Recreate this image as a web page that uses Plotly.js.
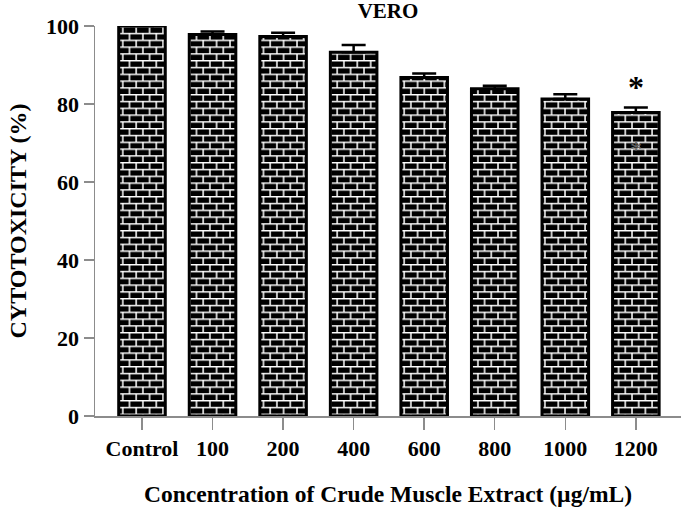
<!DOCTYPE html>
<html>
<head>
<meta charset="utf-8">
<script src="https://cdn.plot.ly/plotly-3.0.1.min.js"></script>
<style>html,body{margin:0;padding:0;background:#fff;}#chart{width:685px;height:512px;}</style>
</head>
<body>
<div id="chart"></div>
<script>
var categories = ["Control", "100", "200", "400", "600", "800", "1000", "1200"];
var cytotoxicity = [100, 97.8, 97.3, 93.3, 86.8, 83.9, 81.3, 77.8];
var errorsUp = [0, 0.8, 1.0, 1.8, 1.0, 0.8, 1.2, 1.3];
var errorsDown = [0, 0, 0, 0, 0, 0, 0, 0];
var yTicks = [0, 20, 40, 60, 80, 100];
var significantIndex = 7;

var FONT = "Liberation Serif, Times New Roman, serif";
var AXIS_GREY = "#8c8c8c";

var trace = {
  type: "bar",
  x: categories,
  y: cytotoxicity,
  width: 0.66,
  marker: {
    color: "black",
    line: {color: "black", width: 3},
    pattern: {shape: "+", bgcolor: "black", fgcolor: "white", size: 13, solidity: 0.1}
  },
  error_y: {
    type: "data", symmetric: false,
    array: errorsUp, arrayminus: errorsDown,
    color: "black", thickness: 2.5, width: 12
  },
  hoverinfo: "skip"
};

var layout = {
  width: 685, height: 512,
  margin: {l: 95, r: 4, t: 26, b: 96},
  paper_bgcolor: "white", plot_bgcolor: "white",
  showlegend: false,
  font: {family: FONT, color: "black"},
  title: {
    text: "<b>VERO</b>",
    font: {family: FONT, size: 21, color: "black"},
    x: 388 / 685, xanchor: "center", xref: "container",
    y: 1 - 11 / 512, yanchor: "middle", yref: "container"
  },
  xaxis: {
    type: "category",
    range: [-0.666, 7.64],
    showgrid: false, zeroline: false,
    showline: true, linecolor: AXIS_GREY, linewidth: 1.5,
    ticks: "outside", ticklen: 12, tickwidth: 1.5, tickcolor: AXIS_GREY,
    tickfont: {family: FONT, size: 22, color: "black", weight: "bold"},
    title: {
      text: "<b>Concentration of Crude Muscle Extract (\u00b5g/mL)</b>",
      font: {family: FONT, size: 23.5, color: "black"},
      standoff: 25
    }
  },
  yaxis: {
    range: [0, 100],
    tickvals: yTicks,
    showgrid: false, zeroline: false,
    showline: true, linecolor: AXIS_GREY, linewidth: 1.5,
    ticks: "outside", ticklen: 10, tickwidth: 1.5, tickcolor: AXIS_GREY,
    tickfont: {family: FONT, size: 22, color: "black", weight: "bold"},
    title: {
      text: "<b>CYTOTOXICITY (%)</b>",
      font: {family: FONT, size: 24, color: "black"},
      standoff: 12
    }
  },
  annotations: [
    {
      x: significantIndex,
      y: cytotoxicity[significantIndex] + errorsUp[significantIndex],
      xref: "x", yref: "y",
      text: "<b>*</b>", showarrow: false,
      font: {family: FONT, size: 32, color: "black"},
      yanchor: "bottom", yshift: 1
    },
    {
      x: significantIndex,
      y: cytotoxicity[significantIndex] - 8.3,
      xref: "x", yref: "y",
      text: "*", showarrow: false,
      font: {family: FONT, size: 24, color: "#666"},
      yanchor: "middle", yshift: -4
    }
  ]
};

function brickify() {
  var ns = "http://www.w3.org/2000/svg";
  var pats = document.querySelectorAll("#chart pattern");
  pats.forEach(function (p) {
    var w = 13.4, h = 13.6;
    p.setAttribute("patternUnits", "userSpaceOnUse");
    p.setAttribute("width", w);
    p.setAttribute("height", h);
    p.removeAttribute("patternTransform");
    while (p.firstChild) p.removeChild(p.firstChild);
    var r = document.createElementNS(ns, "rect");
    r.setAttribute("x", 0); r.setAttribute("y", 0);
    r.setAttribute("width", w); r.setAttribute("height", h);
    r.setAttribute("fill", "black");
    p.appendChild(r);
    var path = document.createElementNS(ns, "path");
    path.setAttribute("d",
      "M0,0.7H" + w + "M0," + (h / 2 + 0.7) + "H" + w +
      "M1,0.7V" + (h / 2 + 0.7) + "M" + (w / 2 + 1) + "," + (h / 2 + 0.7) + "V" + (h + 0.7) +
      "M" + (w / 2 + 1) + ",0V0.7");
    path.setAttribute("stroke", "white");
    path.setAttribute("stroke-width", 1.5);
    path.setAttribute("fill", "none");
    p.appendChild(path);
  });
}

Plotly.newPlot("chart", [trace], layout, {displayModeBar: false, staticPlot: true}).then(brickify);
</script>
</body>
</html>
